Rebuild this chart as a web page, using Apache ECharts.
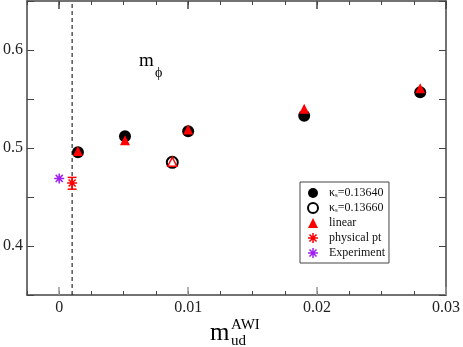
<!DOCTYPE html>
<html>
<head>
<meta charset="utf-8">
<script src="https://cdn.jsdelivr.net/npm/echarts@6.0.0/dist/echarts.min.js"></script>
<style>
  html, body { margin: 0; padding: 0; background: #fff; }
  #chart { width: 463px; height: 347px; }
</style>
</head>
<body>
<div id="chart"></div>
<script>
// kappa_s = 0.13640 (filled circles)
const xK1 = [0.00145, 0.0051, 0.0100, 0.0190, 0.0280];
const yK1 = [0.4956, 0.512, 0.517, 0.533, 0.557];
// kappa_s = 0.13660 (open circle)
const xK2 = [0.00877];
const yK2 = [0.4854];
// linear fit points
const xLin = [0.00145, 0.0051, 0.0100, 0.0190, 0.0280, 0.00877];
const yLin = [0.497, 0.508, 0.519, 0.540, 0.561, 0.486];
// physical point with error
const xPhys = [0.001];
const yPhys = [0.4643];
const yPhysLo = [0.458];
const yPhysHi = [0.470];
// experiment
const xExp = [0];
const yExp = [0.469];
// chiral cut line (dashed)
const xCut = [0.001, 0.001];
const yCut = [0.35, 0.65];
// ticks
const xMajor = [0, 0.01, 0.02, 0.03];
const yMajor = [0.4, 0.5, 0.6];

const SERIF = 'Liberation Serif';
// asterisk: four bars
const STAR = 'path://M-1.5,-10L1.5,-10L1.5,10L-1.5,10Z M-10,-1.5L10,-1.5L10,1.5L-10,1.5Z M-8.1,-6L-6,-8.1L8.1,6L6,8.1Z M-8.1,6L6,-8.1L8.1,-6L-6,8.1Z';

const chart = echarts.init(document.getElementById('chart'));

function xAx(pos, major, showLine, showLabel) {
  return {
    type: 'value', position: pos, min: -0.0025, max: 0.03,
    interval: 0.0025,
    axisLine: { show: showLine, onZero: false, lineStyle: { color: '#444', width: 1.5 } },
    axisTick: major
      ? { show: true, inside: true, length: 8, customValues: xMajor, lineStyle: { color: pos === 'bottom' ? '#999' : '#444', width: 1.5 } }
      : { show: true, inside: true, length: 4, lineStyle: { color: '#444', width: 1 } },
    axisLabel: showLabel
      ? { show: true, customValues: xMajor, margin: 5, color: '#222', fontSize: 16, fontFamily: SERIF,
          formatter: v => (v === 0 ? '0' : String(+v.toFixed(2))) }
      : { show: false },
    splitLine: { show: false }
  };
}

function yAx(pos, showLabel) {
  return {
    type: 'value', position: pos, min: 0.35, max: 0.65, interval: 0.05,
    axisLine: { show: true, onZero: false, lineStyle: { color: '#444', width: 1.5 } },
    axisTick: { show: true, inside: true, length: 7, lineStyle: { color: '#444', width: 1 } },
    axisLabel: showLabel
      ? { show: true, customValues: yMajor, margin: 4, color: '#222', fontSize: 16, fontFamily: SERIF,
          formatter: v => v.toFixed(1) }
      : { show: false },
    splitLine: { show: false }
  };
}

const zip = (xs, ys) => xs.map((x, i) => [x, ys[i]]);

const linData = zip(xLin, yLin).map((p, i) => i === xLin.length - 1
  ? { value: p, symbolSize: 9, itemStyle: { color: '#fff', borderColor: '#ff0000', borderWidth: 1.5 } }
  : p);

const option = {
  animation: false,
  backgroundColor: '#fff',
  grid: { left: 26, right: 16, top: 1, bottom: 52 },
  xAxis: [
    xAx('bottom', false, true, true),
    xAx('bottom', true, false, false),
    xAx('top', false, true, false),
    xAx('top', true, false, false)
  ],
  yAxis: [yAx('left', true), yAx('right', false)],
  legend: {
    orient: 'vertical',
    left: 300, top: 182,
    padding: [5, 4, 4, 7],
    itemWidth: 10, itemHeight: 10, itemGap: 3,
    borderColor: '#444', borderWidth: 1,
    data: ['κs=0.13640', 'κs=0.13660', 'linear', 'physical pt', 'Experiment'],
    formatter: name => name.charAt(0) === 'κ'
      ? '{n|κ}{sub|s}{n|' + name.slice(2) + '}'
      : '{n|' + name + '}',
    textStyle: {
      fontFamily: SERIF, fontSize: 12, color: '#111', padding: [0, 0, 0, 6],
      rich: {
        n: { fontFamily: SERIF, fontSize: 12, color: '#111', lineHeight: 12 },
        sub: { fontFamily: SERIF, fontSize: 7, color: '#111', verticalAlign: 'bottom', lineHeight: 8, padding: [5, 0, 0, 0] }
      }
    }
  },
  graphic: [
    { type: 'text', left: 139, top: 52, style: { text: 'm', font: '19px ' + SERIF, fill: '#000' } },
    { type: 'text', left: 155, top: 66, style: { text: 'ϕ', font: '14px ' + SERIF, fill: '#000' } },
    { type: 'text', left: 210, top: 321, style: { text: 'm', font: '25px ' + SERIF, fill: '#000' } },
    { type: 'text', left: 231, top: 318, style: { text: 'AWI', font: '15px ' + SERIF, fill: '#000' } },
    { type: 'text', left: 231, top: 334, style: { text: 'ud', font: '15px ' + SERIF, fill: '#000' } }
  ],
  series: [
    {
      name: 'cut', type: 'line', symbol: 'none', silent: true,
      lineStyle: { color: '#000', type: [4, 3], width: 1 },
      data: zip(xCut, yCut), z: 1
    },
    {
      name: 'κs=0.13640', type: 'scatter', symbol: 'circle', symbolSize: 12,
      itemStyle: { color: '#000', opacity: 1 },
      data: zip(xK1, yK1)
    },
    {
      name: 'κs=0.13660', type: 'scatter', symbol: 'emptyCircle', symbolSize: 11,
      itemStyle: { color: '#000', borderColor: '#000', borderWidth: 1.5, opacity: 1 },
      data: zip(xK2, yK2)
    },
    {
      name: 'linear', type: 'scatter', symbol: 'triangle', symbolSize: 10,
      itemStyle: { color: '#ff0000', opacity: 1 },
      data: linData, z: 3
    },
    {
      name: 'physical pt err', type: 'custom',
      data: xPhys.map((x, i) => [x, yPhysLo[i], yPhysHi[i]]),
      renderItem: (params, api) => {
        const lo = api.coord([api.value(0), api.value(1)]);
        const hi = api.coord([api.value(0), api.value(2)]);
        const w = 4.5;
        const st = { stroke: '#ff0000', lineWidth: 1.5 };
        return {
          type: 'group',
          children: [
            { type: 'line', shape: { x1: lo[0], y1: lo[1], x2: hi[0], y2: hi[1] }, style: st },
            { type: 'line', shape: { x1: lo[0] - w, y1: lo[1], x2: lo[0] + w, y2: lo[1] }, style: st },
            { type: 'line', shape: { x1: hi[0] - w, y1: hi[1], x2: hi[0] + w, y2: hi[1] }, style: st }
          ]
        };
      }
    },
    {
      name: 'physical pt', type: 'scatter', symbol: STAR, symbolSize: 10,
      itemStyle: { color: '#ff0000', opacity: 1 },
      data: zip(xPhys, yPhys)
    },
    {
      name: 'Experiment', type: 'scatter', symbol: STAR, symbolSize: 10,
      itemStyle: { color: '#a020f0', opacity: 1 },
      data: zip(xExp, yExp)
    }
  ]
};

chart.setOption(option);
</script>
</body>
</html>
